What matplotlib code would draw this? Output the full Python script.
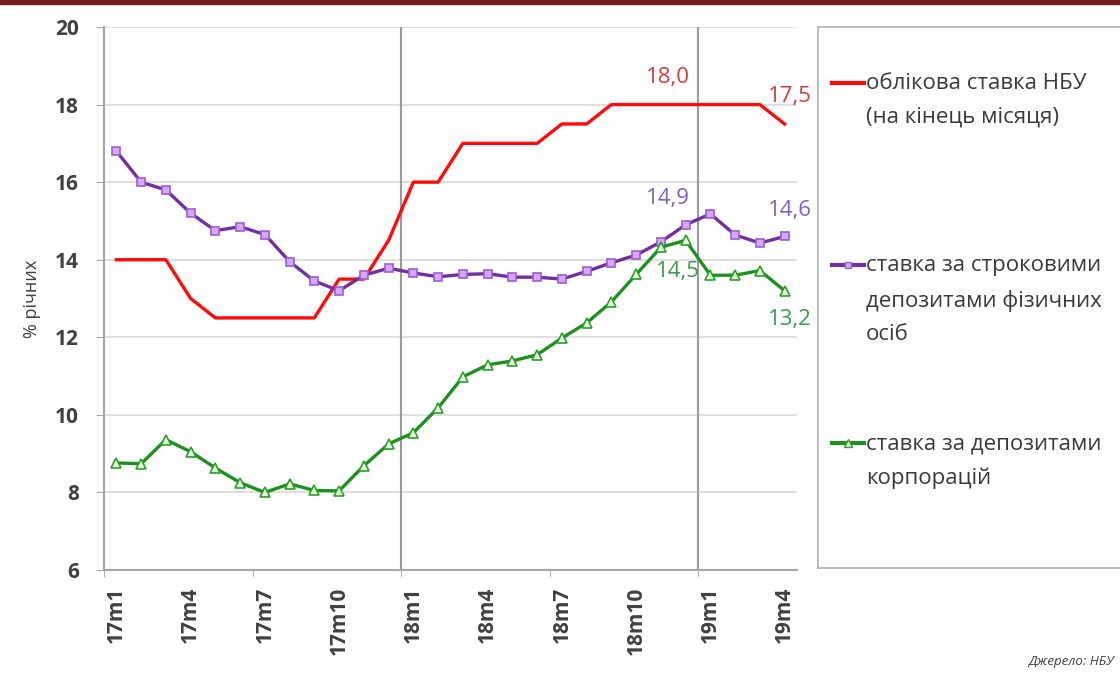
import matplotlib.pyplot as plt
from matplotlib.lines import Line2D
from matplotlib.patches import Rectangle

plt.rcParams["font.family"] = ["Open Sans", "DejaVu Sans"]

# місяці 2017m1 .. 2019m4
months = [f"{y}m{m}" for y in (17, 18) for m in range(1, 13)] + [f"19m{m}" for m in range(1, 5)]

nbu_rate = [14.0, 14.0, 14.0, 13.0, 12.5, 12.5, 12.5, 12.5, 12.5, 13.5, 13.5, 14.5,
            16.0, 16.0, 17.0, 17.0, 17.0, 17.0, 17.5, 17.5, 18.0, 18.0, 18.0, 18.0,
            18.0, 18.0, 18.0, 17.5]
household = [16.8, 16.0, 15.8, 15.2, 14.75, 14.85, 14.65, 13.95, 13.45, 13.2, 13.6, 13.78,
             13.66, 13.56, 13.62, 13.64, 13.55, 13.55, 13.5, 13.7, 13.92, 14.12, 14.46, 14.9,
             15.18, 14.64, 14.43, 14.6]
corporate = [8.76, 8.74, 9.36, 9.05, 8.63, 8.25, 8.0, 8.22, 8.05, 8.04, 8.69, 9.25,
             9.54, 10.18, 10.98, 11.29, 11.39, 11.55, 11.98, 12.37, 12.91, 13.62, 14.32, 14.5,
             13.6, 13.6, 13.72, 13.2]

c_red = "#ff0a0a"
c_purple = "#7030a0"
c_green = "#1f8f1f"
c_grid = "#d9d9d9"
c_axis = "#a6a6a6"
c_text = "#404040"

fig = plt.figure(figsize=(11.2, 6.73), dpi=100)
ax = fig.add_axes([104 / 1120, 1 - 570 / 673, (797 - 104) / 1120, (570 - 27) / 673])

x = list(range(len(months)))
ax.plot(x, nbu_rate, color=c_red, lw=2.4, zorder=3)
ax.plot(x, household, color=c_purple, lw=2.4, marker="s", ms=6,
        mfc="#d9a6ff", mec="#9a5fd0", mew=1.2, zorder=4)
ax.plot(x, corporate, color=c_green, lw=2.4, marker="^", ms=6.5,
        mfc="#e8ffe0", mec="#2aa02a", mew=1.2, zorder=4)

ax.set_xlim(-0.5, len(months) - 0.5)
ax.set_ylim(6, 20)
ax.set_yticks(range(6, 21, 2))
ax.grid(axis="y", color=c_grid, lw=1.2)
ax.set_axisbelow(True)
for xv in (11.5, 23.5):
    ax.axvline(xv, color="#9a9a9a", lw=1.5, zorder=1)

ax.set_xticks(x[::3])
ax.set_xticklabels(months[::3], rotation=90, fontsize=15, color=c_text, fontweight="bold")
ax.set_xticks([-0.5, 5.5, 11.5, 17.5, 23.5], minor=True)
ax.tick_params(axis="x", which="major", length=0, pad=12)
ax.tick_params(axis="x", which="minor", length=5, color=c_axis)
ax.tick_params(axis="y", labelsize=15, colors=c_text, length=6, color=c_axis, pad=12)
for lab in ax.get_yticklabels():
    lab.set_fontweight("bold")
for s in ("top", "right"):
    ax.spines[s].set_visible(False)
for s in ("left", "bottom"):
    ax.spines[s].set_color(c_axis)
    ax.spines[s].set_linewidth(1.5)
ax.set_ylabel("% річних", fontsize=13, color=c_text, labelpad=10)

# підписи значень
lbl = dict(fontsize=16, ha="center", va="center")
ax.text(22.3, 18.7, "18,0", color="#c8403f", **lbl)
ax.text(27.2, 18.2, "17,5", color="#c8403f", **lbl)
ax.text(22.3, 15.57, "14,9", color="#8060c0", **lbl)
ax.text(27.2, 15.28, "14,6", color="#8060c0", **lbl)
ax.text(22.7, 13.7, "14,5", color="#3c9a50", **lbl)
ax.text(27.2, 12.45, "13,2", color="#3c9a50", **lbl)

# легенда праворуч
lg = fig.add_axes([818 / 1120, 1 - 568 / 673, 0.4, (568 - 27) / 673])
lg.set_xlim(818, 818 + 0.4 * 1120)
lg.set_ylim(568, 27)
lg.set_xticks([])
lg.set_yticks([])
for s in lg.spines.values():
    s.set_color("#b0b0b0")
    s.set_linewidth(1.2)

entries = [
    (83, "облікова ставка НБУ\n(на кінець місяця)", dict(color=c_red, lw=3)),
    (265, "ставка за строковими\nдепозитами фізичних\nосіб",
     dict(color=c_purple, lw=3, marker="s", ms=5, mfc="#d9a6ff", mec="#9a5fd0")),
    (443, "ставка за депозитами\nкорпорацій",
     dict(color=c_green, lw=3, marker="^", ms=5.5, mfc="#e8ffe0", mec="#2aa02a")),
]
for yy, label, style in entries:
    lg.add_line(Line2D([832, 848, 864], [yy, yy, yy], markevery=[1], **style))
    lg.text(866, yy - 10, label, fontsize=16, color="#3a3a3a", va="top", ha="left",
            linespacing=1.8)

fig.add_artist(Rectangle((0, 1 - 4 / 673), 1, 4 / 673, transform=fig.transFigure,
                         color="#6e1e1e", zorder=10))
fig.text(0.995, 0.012, "Джерело: НБУ", fontsize=9.5, style="italic", color=c_text, ha="right")

fig.savefig("out.png", dpi=100)
